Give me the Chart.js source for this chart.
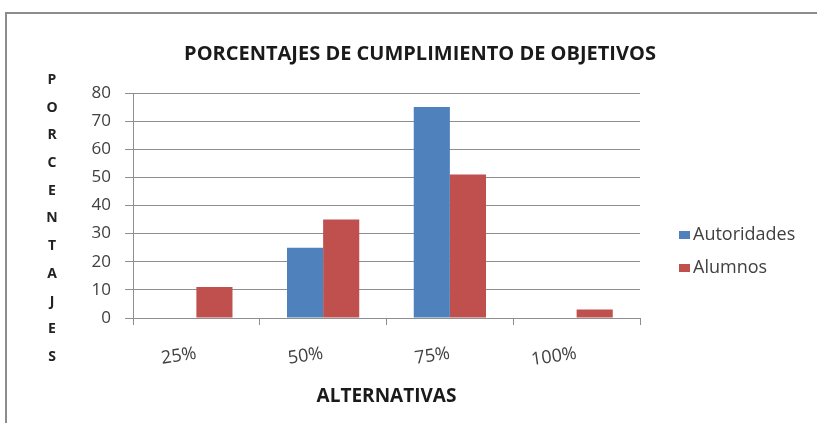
<!DOCTYPE html>
<html>
<head>
<meta charset="utf-8">
<script src="https://cdn.jsdelivr.net/npm/chart.js@4"></script>
<style>
  html, body { margin: 0; padding: 0; background: #fff; overflow: hidden; }
  #frame { position: absolute; left: 5px; top: 12px; width: 900px; height: 500px;
           border-left: 2px solid #8c8c8c; border-top: 2px solid #8c8c8c; }
  #wrap { position: absolute; left: 0; top: 0; width: 817px; height: 423px; }
</style>
</head>
<body>
<div id="frame"></div>
<div id="wrap"><canvas id="cumplimientoChart" width="817" height="423"></canvas></div>
<script>
const alternativas = ['25%', '50%', '75%', '100%'];
const autoridades = [0, 25, 75, 0];
const alumnos = [11, 35, 51, 3];
const yTicks = [0, 10, 20, 30, 40, 50, 60, 70, 80];
const yTitle = 'PORCENTAJES';

const FONT = '"Open Sans", "DejaVu Sans", sans-serif';

// letras del eje Y apiladas una debajo de otra
const stackedYTitle = {
    id: 'stackedYTitle',
    afterDraw(chart) {
        const ctx = chart.ctx;
        ctx.save();
        ctx.font = 'bold 14px ' + FONT;
        ctx.fillStyle = '#222';
        ctx.textAlign = 'center';
        ctx.textBaseline = 'middle';
        yTitle.split('').forEach(function (c, i) {
            ctx.fillText(c, 52, 80 + i * 27.7);
        });
        ctx.restore();
    }
};

// leyenda a la derecha, en el hueco que deja el eje "gap"
const sideLegend = {
    id: 'sideLegend',
    afterDraw(chart) {
        const ctx = chart.ctx;
        const x = chart.chartArea.right + 39;
        ctx.save();
        ctx.font = '18px ' + FONT;
        ctx.textBaseline = 'middle';
        chart.data.datasets.forEach(function (ds, i) {
            const y = 235 + i * 33;
            ctx.fillStyle = ds.backgroundColor;
            ctx.fillRect(x, y - 4, 11, 8);
            ctx.fillStyle = '#404040';
            ctx.fillText(ds.label, x + 14, y);
        });
        ctx.restore();
    }
};

const ctx = document.getElementById('cumplimientoChart').getContext('2d');

new Chart(ctx, {
    type: 'bar',
    data: {
        labels: alternativas,
        datasets: [{
            label: 'Autoridades',
            data: autoridades,
            backgroundColor: '#4f81bd',
            categoryPercentage: 0.57,
            barPercentage: 1.0
        }, {
            label: 'Alumnos',
            data: alumnos,
            backgroundColor: '#c0504d',
            categoryPercentage: 0.57,
            barPercentage: 1.0
        }]
    },
    options: {
        responsive: false,
        animation: false,
        layout: { padding: { left: 33, right: 10, top: 0, bottom: 0 } },
        plugins: {
            title: {
                display: true,
                text: 'PORCENTAJES DE CUMPLIMIENTO DE OBJETIVOS',
                color: '#1a1a1a',
                font: { family: FONT, size: 20, weight: 'bold' },
                padding: { top: 42, bottom: 27 }
            },
            legend: { display: false },
            tooltip: { enabled: false }
        },
        scales: {
            x: {
                grid: { display: true, drawOnChartArea: false, color: '#8e8e8e', tickLength: 7 },
                border: { color: '#8e8e8e' },
                ticks: {
                    color: '#404040',
                    font: { family: FONT, size: 18 },
                    minRotation: 8,
                    maxRotation: 8,
                    padding: 18
                },
                title: {
                    display: true,
                    text: 'ALTERNATIVAS',
                    color: '#1a1a1a',
                    font: { family: FONT, size: 19, weight: 'bold' },
                    padding: { top: 0, bottom: 15 }
                },
                afterFit(scale) { scale.height = 105; }
            },
            y: {
                min: 0,
                max: 80,
                afterBuildTicks(scale) { scale.ticks = yTicks.map(v => ({ value: v })); },
                grid: { color: '#8e8e8e', tickLength: 8 },
                border: { color: '#8e8e8e' },
                ticks: {
                    color: '#404040',
                    font: { family: FONT, size: 17 },
                    padding: 14
                },
                afterFit(scale) { scale.width = 100; }
            },
            gap: {
                type: 'linear',
                position: 'right',
                display: true,
                grid: { display: false },
                border: { display: false },
                ticks: { display: false },
                afterFit(scale) { scale.width = 167; }
            }
        }
    },
    plugins: [stackedYTitle, sideLegend]
});
</script>
</body>
</html>
